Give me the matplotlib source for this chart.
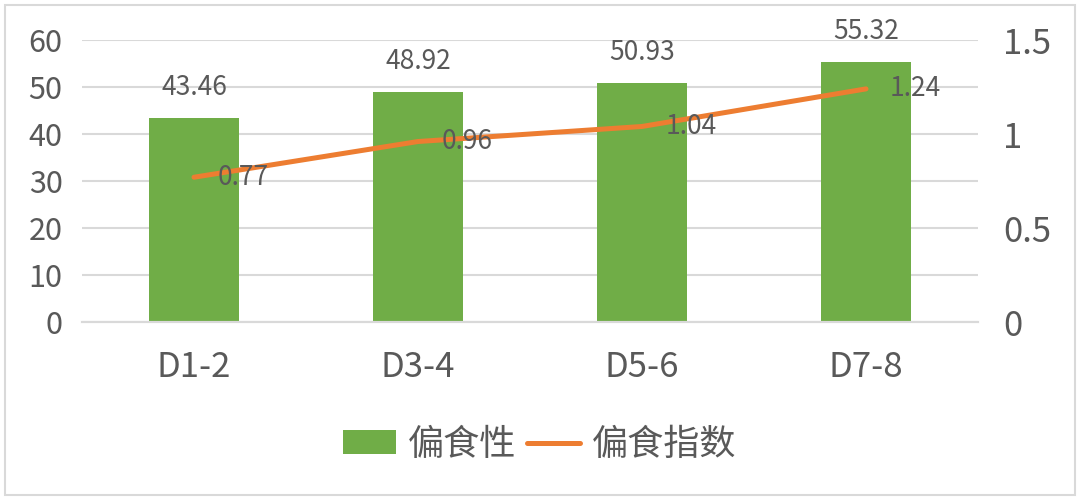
import matplotlib.pyplot as plt
from matplotlib.patches import Rectangle

plt.rcParams['font.family'] = ['Noto Sans CJK SC', 'DejaVu Sans']

groups = ['D1-2', 'D3-4', 'D5-6', 'D7-8']
picky = [43.46, 48.92, 50.93, 55.32]      # 偏食性
picky_index = [0.77, 0.96, 1.04, 1.24]    # 偏食指数

green = '#70AD47'
orange = '#ED7D31'
txt = '#595959'
grid = '#D9D9D9'

fig = plt.figure(figsize=(10.8, 5), dpi=100)
ax = fig.add_axes([82 / 1080, 1 - 322 / 500, 896 / 1080, 282 / 500])
ax2 = ax.twinx()

x = list(range(len(groups)))
bars = ax.bar(x, picky, width=0.4, color=green, label='偏食性', zorder=2)
ax.set_xlim(-0.5, len(groups) - 0.5)
ax.set_ylim(0, 60)
ax.set_yticks(range(0, 61, 10))
ax.set_xticks(x)
ax.set_xticklabels(groups)
ax.yaxis.grid(True, color=grid, linewidth=1.5, zorder=0)
ax.set_axisbelow(True)

for b, v in zip(bars, picky):
    ax.annotate(f'{v:.2f}', (b.get_x() + b.get_width() / 2, v), xytext=(0, 22),
                textcoords='offset points', ha='center', va='center',
                fontsize=19, color=txt, zorder=5)

ln, = ax2.plot(x, picky_index, color=orange, linewidth=3.6, solid_capstyle='round',
               label='偏食指数', zorder=3)
ax2.set_ylim(0, 1.5)
ax2.set_yticks([0, 0.5, 1, 1.5])
ax2.set_yticklabels(['0', '0.5', '1', '1.5'])
for xi, v in zip(x, picky_index):
    ax2.annotate(f'{v:.2f}', (xi, v), xytext=(17, 0), textcoords='offset points',
                 ha='left', va='center', fontsize=19, color=txt, zorder=5)

for a in (ax, ax2):
    for s in ('top', 'left', 'right'):
        a.spines[s].set_visible(False)
    a.spines['bottom'].set_color(grid)
    a.spines['bottom'].set_linewidth(1.5)
    a.tick_params(length=0, colors=txt)

ax.tick_params(axis='y', labelsize=22, pad=14)
ax.tick_params(axis='x', labelsize=25, pad=20)
ax2.tick_params(axis='y', labelsize=25, pad=18)

fig.legend([bars, ln], ['偏食性', '偏食指数'], loc='center', bbox_to_anchor=(0.5, 1 - 445 / 500),
           ncol=2, frameon=False, fontsize=26, labelcolor=txt, handlelength=1.45,
           handletextpad=0.35, columnspacing=0.3, handleheight=0.65)

fig.add_artist(Rectangle((5 / 1080, 5 / 500), 1070 / 1080, 490 / 500, transform=fig.transFigure,
                         fill=False, edgecolor=grid, linewidth=1.5))

fig.savefig('out.png', dpi=100)
